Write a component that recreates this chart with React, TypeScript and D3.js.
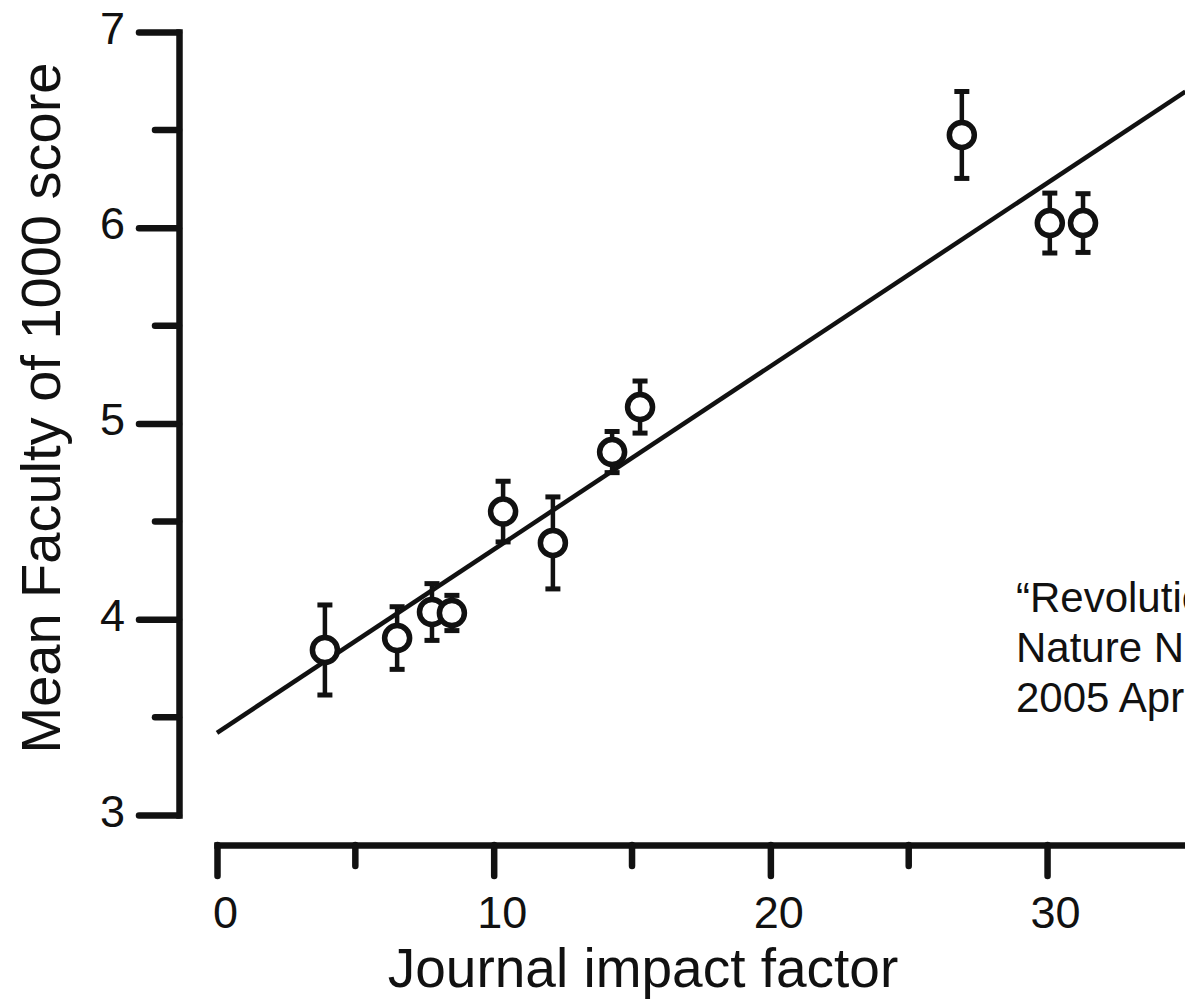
import { useEffect, useRef } from 'react';
import * as d3 from 'd3';

// journal impact factor vs mean F1000 score
const impactFactor = [3.9, 6.51, 7.77, 8.49, 10.34, 12.14, 14.28, 15.29, 26.92, 30.1, 31.3];
const meanScore = [3.843, 3.904, 4.037, 4.032, 4.55, 4.39, 4.854, 5.084, 6.474, 6.024, 6.024];
const scoreError = [0.23, 0.16, 0.145, 0.09, 0.155, 0.235, 0.105, 0.133, 0.222, 0.153, 0.15];

const xMajorTicks = [0, 10, 20, 30];
const xMinorTicks = [5, 15, 25];
const yMajorTicks = [3, 4, 5, 6, 7];
const yMinorTicks = [3.5, 4.5, 5.5, 6.5];

// regression line
const fitIntercept = 3.42;
const fitSlope = 0.0936;

const noteLines = ['\u201CRevolutionizing peer review?\u201D', 'Nature Neuroscience', '2005 Apr;8(4):397'];

const ink = '#111';
const font = '"Liberation Sans", Arial, Helvetica, sans-serif';

const App = () => {
    const svgRef = useRef<SVGSVGElement>(null);

    useEffect(() => {
        const svg = d3.select(svgRef.current);
        svg.selectAll('*').remove();

        const x = d3.scaleLinear().domain([0, 35]).range([217, 1185.4]);
        const y = d3.scaleLinear().domain([3, 7]).range([815, 32]);
        const axisX = 179;
        const axisY = 845;

        // Y axis
        const yAxis = svg.append('g')
            .attr('transform', `translate(${axisX},0)`)
            .call(d3.axisLeft(y).tickValues(yMajorTicks).tickSize(40).tickSizeOuter(0).tickPadding(14).tickFormat(d3.format('d')));
        yAxis.select('.domain').attr('stroke', ink).attr('stroke-width', 6.5).attr('stroke-linecap', 'square');
        yAxis.selectAll('.tick line').attr('stroke', ink).attr('stroke-width', 6.5).attr('stroke-linecap', 'round');
        yAxis.selectAll('.tick text')
            .attr('dy', 11)
            .attr('fill', ink)
            .style('font-size', '45px')
            .style('font-family', font);
        yAxis.selectAll('.minor')
            .data(yMinorTicks)
            .join('line')
            .attr('class', 'minor')
            .attr('x1', 0).attr('x2', -24)
            .attr('y1', d => y(d)).attr('y2', d => y(d))
            .attr('stroke', ink).attr('stroke-width', 6.5).attr('stroke-linecap', 'round');

        // X axis
        const xAxis = svg.append('g')
            .attr('transform', `translate(0,${axisY})`)
            .call(d3.axisBottom(x).tickValues(xMajorTicks).tickSize(31).tickSizeOuter(0).tickFormat(d3.format('d')));
        xAxis.select('.domain').attr('stroke', ink).attr('stroke-width', 6.5).attr('stroke-linecap', 'square');
        xAxis.selectAll('.tick line').attr('stroke', ink).attr('stroke-width', 6.5).attr('stroke-linecap', 'round');
        xAxis.selectAll('.tick text')
            .attr('y', 83)
            .attr('dy', 0)
            .attr('dx', 8)
            .attr('fill', ink)
            .style('font-size', '45px')
            .style('font-family', font);
        xAxis.selectAll('.minor')
            .data(xMinorTicks)
            .join('line')
            .attr('class', 'minor')
            .attr('x1', d => x(d)).attr('x2', d => x(d))
            .attr('y1', 0).attr('y2', 21)
            .attr('stroke', ink).attr('stroke-width', 6.5).attr('stroke-linecap', 'round');

        // Axis titles
        svg.append('text')
            .attr('x', 643)
            .attr('y', 987)
            .attr('text-anchor', 'middle')
            .attr('fill', ink)
            .style('font-size', '55px')
            .style('font-family', font)
            .text('Journal impact factor');

        svg.append('text')
            .attr('transform', 'translate(60,408) rotate(-90)')
            .attr('text-anchor', 'middle')
            .attr('fill', ink)
            .style('font-size', '56px')
            .style('font-family', font)
            .text('Mean Faculty of 1000 score');

        // Fit line
        const line = d3.line<number>()
            .x(d => x(d))
            .y(d => y(fitIntercept + fitSlope * d));
        svg.append('path')
            .datum(x.domain())
            .attr('d', line)
            .attr('fill', 'none')
            .attr('stroke', ink)
            .attr('stroke-width', 4.5);

        const points = impactFactor.map((v, i) => ({ x: v, y: meanScore[i], e: scoreError[i] }));

        // Error bars
        const bars = svg.append('g')
            .selectAll('g')
            .data(points)
            .join('g')
            .attr('stroke', ink);
        bars.append('line')
            .attr('x1', d => x(d.x)).attr('x2', d => x(d.x))
            .attr('y1', d => y(d.y - d.e)).attr('y2', d => y(d.y + d.e))
            .attr('stroke-width', 4.5);
        bars.selectAll('.cap')
            .data(d => [{ x: d.x, y: d.y - d.e }, { x: d.x, y: d.y + d.e }])
            .join('line')
            .attr('class', 'cap')
            .attr('x1', d => x(d.x) - 7.5).attr('x2', d => x(d.x) + 7.5)
            .attr('y1', d => y(d.y)).attr('y2', d => y(d.y))
            .attr('stroke-width', 5);

        // Open circles
        svg.append('g')
            .selectAll('circle')
            .data(points)
            .join('circle')
            .attr('cx', d => x(d.x))
            .attr('cy', d => y(d.y))
            .attr('r', 12.5)
            .attr('fill', '#fff')
            .attr('stroke', ink)
            .attr('stroke-width', 5.5);

        // Citation note (runs off the right edge, as in the source figure)
        svg.append('text')
            .attr('x', 1016)
            .attr('y', 612)
            .attr('fill', ink)
            .style('font-size', '42px')
            .style('font-family', font)
            .selectAll('tspan')
            .data(noteLines)
            .join('tspan')
            .attr('x', 1016)
            .attr('dy', (d, i) => (i === 0 ? 0 : 50))
            .text(d => d);
    }, []);

    return (
        <svg
            ref={svgRef}
            width={1185}
            height={1000}
            style={{ position: 'absolute', left: 0, top: 0, background: '#fff', display: 'block' }}
        />
    );
};

export default App;
